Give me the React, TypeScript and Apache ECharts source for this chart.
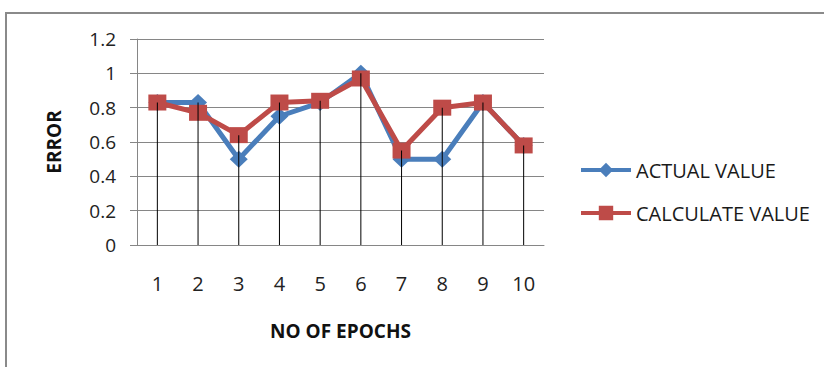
import React, { useEffect, useRef } from "react";
import * as echarts from "echarts";

const categories = ["1", "2", "3", "4", "5", "6", "7", "8", "9", "10"];
const actualValues = [0.83, 0.83, 0.5, 0.75, 0.83, 1.0, 0.5, 0.5, 0.83, 0.58];
const calculateValues = [0.83, 0.77, 0.64, 0.83, 0.84, 0.97, 0.55, 0.8, 0.83, 0.58];
const yTicks = { min: 0, max: 1.2, interval: 0.2 };

const FONT = "'Open Sans', sans-serif";

export default function App() {
  const ref = useRef<HTMLDivElement>(null);
  useEffect(() => {
    if (!ref.current) return;
    const chart = echarts.init(ref.current, null, { renderer: "svg" });
    const dropValues = actualValues.map((v, i) => Math.max(v, calculateValues[i]));
    chart.setOption({
      animation: false,
      backgroundColor: "#ffffff",
      textStyle: { fontFamily: FONT },
      graphic: [
        {
          type: "rect",
          shape: { x: 6, y: 13, width: 840, height: 380 },
          style: { fill: "none", stroke: "#8a8a8a", lineWidth: 2 },
          silent: true,
        },
      ],
      grid: { left: 137, right: 280, top: 39, bottom: 122 },
      legend: {
        data: ["ACTUAL VALUE", "CALCULATE VALUE"],
        orient: "vertical",
        left: 579,
        top: 160,
        padding: 0,
        itemWidth: 50,
        itemHeight: 18,
        itemGap: 23,
        lineStyle: { width: 4 },
        textStyle: { fontFamily: FONT, fontSize: 20, color: "#1a1a1a" },
      },
      xAxis: {
        type: "category",
        data: categories,
        boundaryGap: true,
        name: "NO OF EPOCHS",
        nameLocation: "middle",
        nameGap: 76,
        nameTextStyle: { fontFamily: FONT, fontSize: 19, fontWeight: "bold", color: "#111" },
        axisLine: { show: true, lineStyle: { color: "#868686", width: 1 } },
        axisTick: { show: false },
        axisLabel: { margin: 28, fontFamily: FONT, fontSize: 20, color: "#222" },
      },
      yAxis: {
        type: "value",
        min: yTicks.min,
        max: yTicks.max,
        interval: yTicks.interval,
        name: "ERROR",
        nameLocation: "middle",
        nameGap: 74,
        nameTextStyle: { fontFamily: FONT, fontSize: 19, fontWeight: "bold", color: "#111" },
        axisLine: { show: true, lineStyle: { color: "#868686", width: 1 } },
        axisTick: { show: true, length: 7, lineStyle: { color: "#868686" } },
        axisLabel: {
          margin: 21,
          fontFamily: FONT,
          fontSize: 19,
          color: "#222",
          formatter: (v: number) => String(Math.round(v * 10) / 10),
        },
        splitLine: { show: true, lineStyle: { color: "#868686", width: 1 } },
      },
      series: [
        {
          name: "ACTUAL VALUE",
          type: "line",
          data: actualValues,
          symbol: "diamond",
          symbolSize: [18, 17],
          lineStyle: { color: "#4a7ebb", width: 5 },
          itemStyle: { color: "#4a7ebb" },
          z: 2,
        },
        {
          name: "CALCULATE VALUE",
          type: "line",
          data: calculateValues,
          symbol: "rect",
          symbolSize: [18, 16],
          lineStyle: { color: "#be4b48", width: 5 },
          itemStyle: { color: "#be4b48" },
          z: 3,
        },
        {
          name: "drop",
          type: "bar",
          data: dropValues,
          barWidth: 1,
          itemStyle: { color: "#000000" },
          silent: true,
          z: 10,
        },
      ],
    });
    return () => chart.dispose();
  }, []);
  return (
    <div
      ref={ref}
      style={{ position: "fixed", left: 0, top: 0, width: 824, height: 367 }}
    />
  );
}
